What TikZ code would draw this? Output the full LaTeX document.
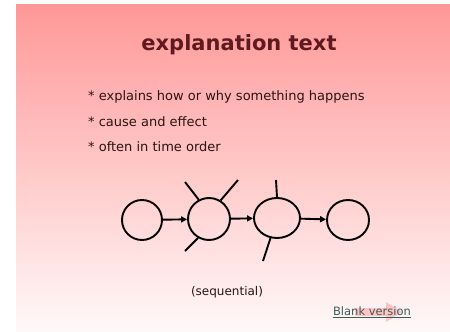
\documentclass[tikz,border=0pt]{standalone}
\usepackage{fontspec}
\setmainfont{DejaVu Sans}
\usetikzlibrary{arrows.meta,shapes.geometric}
\definecolor{titlecol}{HTML}{5E1A1E}
\definecolor{bodycol}{HTML}{2A1414}
\definecolor{linkcol}{HTML}{3C5E5C}
\definecolor{pinktop}{HTML}{FF9797}
\definecolor{pinkmid}{HTML}{FFC6C6}
\definecolor{pinkbot}{HTML}{FFF9F9}
\tikzset{
  stage/.style={ellipse,draw=black,line width=1.9pt,inner sep=0pt},
  flow/.style={line width=1.9pt,-{Triangle[length=6pt,width=6pt]}},
  spoke/.style={line width=1.9pt},
  bullet/.style={anchor=west,text=bodycol,font=\fontsize{13}{15}\selectfont,inner sep=0pt}
}
\begin{document}
\begin{tikzpicture}[x=1pt,y=-1pt]
\useasboundingbox (0,0) rectangle (450,332);
\shade[top color=pinktop,middle color=pinkmid,bottom color=pinkbot,shading angle=0] (16,4) rectangle (450,332);
\node[text=titlecol,font=\bfseries\fontsize{21}{24}\selectfont] (title) at (239,45) {explanation text};
\node[bullet] (b1) at (88,97) {* explains how or why something happens};
\node[bullet] (b2) at (88,122) {* cause and effect};
\node[bullet] (b3) at (88,147) {* often in time order};
\node[stage,minimum width=40pt,minimum height=40pt] (c1) at (142,220) {};
\node[stage,minimum width=42pt,minimum height=42pt] (c2) at (209,219) {};
\node[stage,minimum width=46pt,minimum height=40pt] (c3) at (277,218) {};
\node[stage,minimum width=42pt,minimum height=40pt] (c4) at (348,220) {};
\draw[flow] (c1) -- (c2);
\draw[flow] (c2) -- (c3);
\draw[flow] (c3) -- (c4);
\coordinate (s1) at (185,182);
\coordinate (s2) at (238,180);
\coordinate (s3) at (185,251);
\coordinate (s4) at (276,180);
\coordinate (s5) at (263,261);
\draw[spoke] (c2.118) -- (s1);
\draw[spoke] (c2.58) -- (s2);
\draw[spoke] (c2.240) -- (s3);
\draw[spoke] (c3.90) -- (s4);
\draw[spoke] (c3.252) -- (s5);
\node[text=bodycol,font=\fontsize{12}{14}\selectfont] (seq) at (227,292) {(sequential)};
\fill[red!45,opacity=0.45] (355,308) -- (386,308) -- (386,302) -- (402,312) -- (386,322) -- (386,316) -- (355,316) -- cycle;
\node[text=linkcol,font=\fontsize{11.5}{13}\selectfont,inner sep=0pt] (link) at (372,312) {\underline{Blank version}};
\end{tikzpicture}
\end{document}
